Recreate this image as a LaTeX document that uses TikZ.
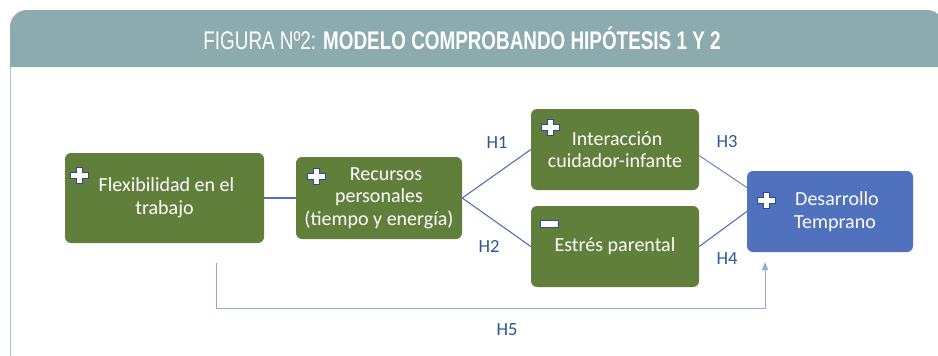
\documentclass[tikz,border=0pt]{standalone}
\usepackage{fontspec}
\setmainfont{Carlito}
\newfontfamily\hdrfont[FakeStretch=0.74]{Liberation Sans}
\usetikzlibrary{arrows.meta,calc}
\definecolor{hdr}{HTML}{8CABAF}
\definecolor{frameline}{HTML}{A9C6CF}
\definecolor{boxgreen}{HTML}{5F7F3B}
\definecolor{boxblue}{HTML}{4F71BE}
\definecolor{conn}{HTML}{4F71BE}
\definecolor{connlight}{HTML}{8EA9DB}
\definecolor{lbl}{HTML}{2F5597}
\definecolor{iconblue}{HTML}{2E4A8C}
\tikzset{
  greenbox/.style={fill=boxgreen, rounded corners=6pt, text=white, align=center,
    font=\fontsize{20}{22.5}\selectfont, inner sep=0pt},
  bluebox/.style={greenbox, fill=boxblue},
  conline/.style={draw=conn, line width=1.1pt},
  h5line/.style={draw=connlight, line width=1pt},
  hlabel/.style={text=lbl, font=\fontsize{18.5}{20}\selectfont, inner sep=0pt},
  plusicon/.pic={\filldraw[fill=white, draw=iconblue, line width=0.9pt]
     (-3,-8)--(3,-8)--(3,-3)--(9,-3)--(9,3)--(3,3)--(3,8)--(-3,8)--(-3,3)--(-9,3)--(-9,-3)--(-3,-3)--cycle;},
  minusicon/.pic={\filldraw[fill=white, draw=iconblue, line width=0.9pt]
     (-9,-3.5) rectangle (9,3.5);}
}
\begin{document}
\begin{tikzpicture}[x=1pt,y=-1pt]
\useasboundingbox (0,0) rectangle (938,356);
\begin{scope}
\clip (0,0) rectangle (938,356);
\fill[hdr] (10,67) [rounded corners=17pt] -- (10,10) -- (944,10) [sharp corners] -- (944,67) -- cycle;
\draw[frameline, line width=1pt] (10.5,67) -- (10.5,360);
\end{scope}
\node[text=white, font=\hdrfont\fontsize{25.5}{27}\selectfont, inner sep=0pt] (title) at (462,38)
  {FIGURA Nº2: \textbf{MODELO COMPROBANDO HIPÓTESIS 1 Y 2}};

\node[greenbox, minimum width=199pt, minimum height=90pt] (flex) at (164.5,198) {\hspace*{4pt}Flexibilidad en el\\trabajo};
\node[greenbox, minimum width=166pt, minimum height=82pt] (rec) at (379,198) {\hspace*{14pt}Recursos\\personales\\(tiempo y energía)};
\node[greenbox, minimum width=168pt, minimum height=81pt] (inter) at (615,149.5) {\hspace*{4pt}Interacción\\cuidador-infante};
\node[greenbox, minimum width=168pt, minimum height=81pt] (estres) at (615,246.5) {Estrés parental};
\node[bluebox, minimum width=166pt, minimum height=81pt] (des) at (830,211.5) {\hspace*{14pt}Desarrollo\\\hspace*{10pt}Temprano};

\pic at (79,175) {plusicon};
\pic at (316,176) {plusicon};
\pic at (550,127.5) {plusicon};
\pic at (549,224) {minusicon};
\pic at (766,200.5) {plusicon};

\draw[conline] (flex.east) -- (rec.west);
\draw[conline] (rec.east) -- (inter.west);
\draw[conline] (rec.east) -- (estres.west);
\draw[conline, line width=0.8pt] ([yshift=-6pt]inter.east) -- ([yshift=24pt]des.west);
\draw[conline] (estres.east) -- ([yshift=0pt]des.west);

\coordinate (h5a) at (216,263);
\coordinate (h5b) at (216,308);
\coordinate (h5c) at (765,308);
\coordinate (h5d) at (765,262);
\draw[h5line, -{Triangle[length=8pt,width=6pt]}] (h5a) -- (h5b) -- (h5c) -- (h5d);

\node[hlabel] (H1) at (497,143) {H1};
\node[hlabel] (H2) at (489,246) {H2};
\node[hlabel] (H3) at (727,142) {H3};
\node[hlabel] (H4) at (727,259) {H4};
\node[hlabel] (H5) at (507,330) {H5};
\end{tikzpicture}
\end{document}
